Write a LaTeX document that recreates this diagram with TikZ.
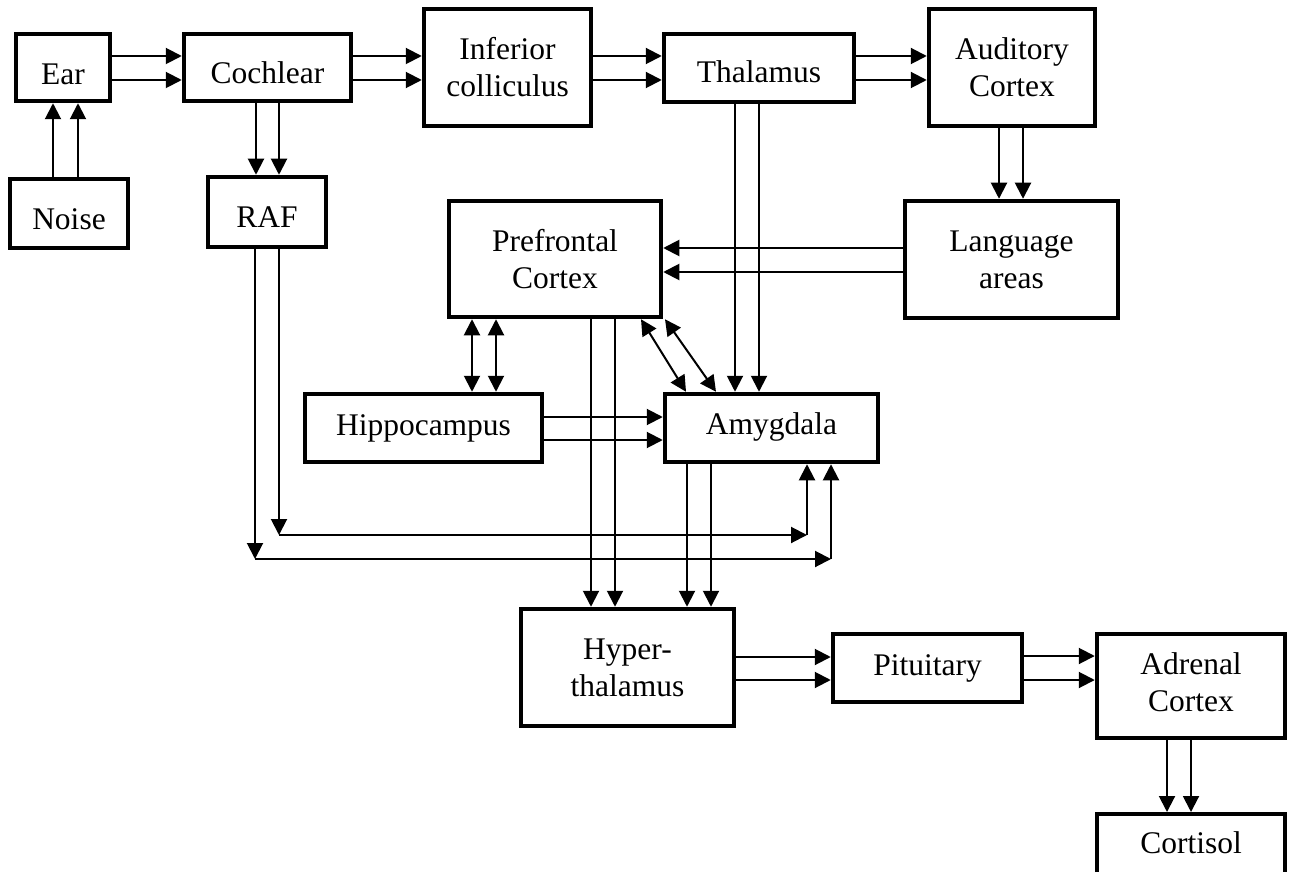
\documentclass[tikz,border=0pt]{standalone}
\usepackage{fontspec}
\setmainfont{Liberation Serif}
\usetikzlibrary{arrows.meta}
\begin{document}
\begin{tikzpicture}[x=1pt,y=-1pt,
  box/.style={draw,line width=4.5pt,inner sep=0pt,align=center,font=\fontsize{31.5}{37}\selectfont},
  arr/.style={line width=2pt,-{Triangle[length=16pt,width=16pt]}},
  darr/.style={line width=2pt,{Triangle[length=16pt,width=16pt]}-{Triangle[length=16pt,width=16pt]}}]
\useasboundingbox (0,0) rectangle (1289,882);
% nodes
\node[box,minimum width=94pt,minimum height=67pt,text height=33.9pt,text depth=0pt] (Ear) at (63,67.5) {Ear};
\node[box,minimum width=167pt,minimum height=67pt,text height=31.9pt,text depth=0pt] (Cochlear) at (267.5,67.5) {Cochlear};
\node[box,minimum width=118pt,minimum height=69pt,text height=32.9pt,text depth=0pt] (Noise) at (69,213.5) {Noise};
\node[box,minimum width=118pt,minimum height=70pt,text height=30.9pt,text depth=0pt] (RAF) at (267,212) {RAF};
\node[box,minimum width=167pt,minimum height=117pt] (Inferior) at (507.5,67.5) {Inferior\\colliculus};
\node[box,minimum width=190pt,minimum height=68pt,text height=28.9pt,text depth=0pt] (Thalamus) at (759,68) {Thalamus};
\node[box,minimum width=166pt,minimum height=117pt] (Auditory) at (1012,67.5) {Auditory\\Cortex};
\node[box,minimum width=213pt,minimum height=117pt] (Language) at (1011.5,259.5) {Language\\areas};
\node[box,minimum width=212pt,minimum height=116pt] (Prefrontal) at (555,259) {Prefrontal\\Cortex};
\node[box,minimum width=237pt,minimum height=68pt,text height=14.9pt,text depth=0pt] (Hippocampus) at (423.5,428) {Hippocampus};
\node[box,minimum width=213pt,minimum height=68pt,text height=12.9pt,text depth=0pt] (Amygdala) at (771.5,428) {Amygdala};
\node[box,minimum width=213pt,minimum height=117pt] (Hyper) at (627.5,667.5) {Hyper-\\thalamus};
\node[box,minimum width=189pt,minimum height=68pt,text height=14.9pt,text depth=0pt] (Pituitary) at (927.5,668) {Pituitary};
\node[box,minimum width=188pt,minimum height=104pt,text depth=7pt] (Adrenal) at (1191,686) {Adrenal\\Cortex};
\node[font=\fontsize{31.5}{37}\selectfont,inner sep=0pt] (Cortisol) at (1191,843) {Cortisol};
\coordinate (CortTop) at (1191,812);
\draw[line width=4.5pt] (1097,872) -- (1097,814) -- (1285,814) -- (1285,872);
% connectors
\foreach \y in {56,80}{
  \draw[arr] (Ear.east |- 0,\y) -- (Cochlear.west |- 0,\y);
  \draw[arr] (Cochlear.east |- 0,\y) -- (Inferior.west |- 0,\y);
  \draw[arr] (Inferior.east |- 0,\y) -- (Thalamus.west |- 0,\y);
  \draw[arr] (Thalamus.east |- 0,\y) -- (Auditory.west |- 0,\y);
}
\foreach \x in {53,78}{\draw[arr] (Noise.north -| \x,0) -- (Ear.south -| \x,0);}
\foreach \x in {256,279}{\draw[arr] (Cochlear.south -| \x,0) -- (RAF.north -| \x,0);}
\foreach \x in {999,1023}{\draw[arr] (Auditory.south -| \x,0) -- (Language.north -| \x,0);}
\foreach \y in {248,272}{\draw[arr] (Language.west |- 0,\y) -- (Prefrontal.east |- 0,\y);}
\foreach \x in {735,759}{\draw[arr] (Thalamus.south -| \x,0) -- (Amygdala.north -| \x,0);}
\foreach \x in {472,496}{\draw[darr] (Prefrontal.south -| \x,0) -- (Hippocampus.north -| \x,0);}
\foreach \y in {417,440}{\draw[arr] (Hippocampus.east |- 0,\y) -- (Amygdala.west |- 0,\y);}
\foreach \x in {591,615}{\draw[arr] (Prefrontal.south -| \x,0) -- (Hyper.north -| \x,0);}
\draw[darr] (Prefrontal.south -| 641,0) -- (Amygdala.north -| 686,0);
\draw[darr] (Prefrontal.south -| 665,0) -- (Amygdala.north -| 716,0);
\foreach \x in {687,711}{\draw[arr] (Amygdala.south -| \x,0) -- (Hyper.north -| \x,0);}
% RAF feedback
\coordinate (r1a) at (279,535); \coordinate (r1b) at (807,535);
\coordinate (r2a) at (255,559); \coordinate (r2b) at (831,559);
\draw[arr] (RAF.south -| r1a) -- (r1a);
\draw[arr] (r1a) -- (r1b);
\draw[arr] (r1b) -- (Amygdala.south -| r1b);
\draw[arr] (RAF.south -| r2a) -- (r2a);
\draw[arr] (r2a) -- (r2b);
\draw[arr] (r2b) -- (Amygdala.south -| r2b);
\foreach \y in {657,680}{\draw[arr] (Hyper.east |- 0,\y) -- (Pituitary.west |- 0,\y);}
\foreach \y in {656,680}{\draw[arr] (Pituitary.east |- 0,\y) -- (Adrenal.west |- 0,\y);}
\foreach \x in {1167,1191}{\draw[arr] (Adrenal.south -| \x,0) -- (CortTop -| \x,0);}
\end{tikzpicture}
\end{document}
